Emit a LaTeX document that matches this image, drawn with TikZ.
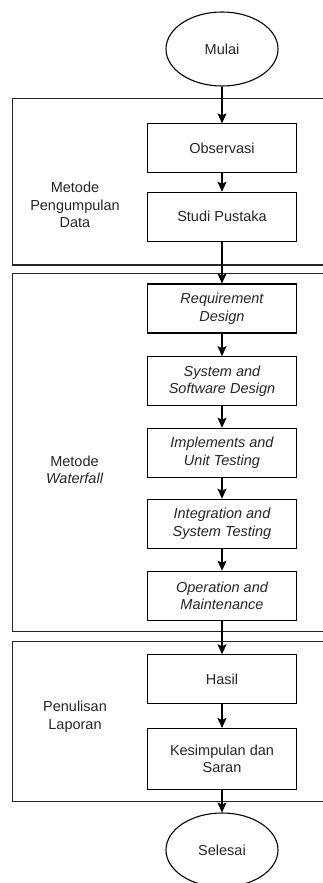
\documentclass[tikz,border=0pt]{standalone}
\usepackage{fontspec}
\setmainfont{Liberation Sans}
\usetikzlibrary{shapes.geometric,arrows.meta}

\tikzset{
  base/.style={line width=1.1pt, draw=black, text=black!85,
    font=\fontsize{14.5}{17.5}\selectfont, align=center, inner sep=0pt},
  terminal/.style={base, ellipse, minimum width=112pt, minimum height=74pt},
  stepbox/.style={base, rectangle, minimum width=149pt, minimum height=49pt},
  tallbox/.style={stepbox, minimum height=61pt},
  groupframe/.style={line width=1.1pt, draw=black!85},
  grouplabel/.style={text=black!85, font=\fontsize{14.5}{17.5}\selectfont,
    align=center, inner sep=0pt},
  flow/.style={line width=1.1pt, draw=black,
    -{Stealth[length=10pt,width=9pt,inset=2pt]}}
}

\begin{document}
\begin{tikzpicture}[x=1pt,y=-1pt]
  % page area in pixel-like units
  \clip (0,0) rectangle (323,883);
  \fill[white] (0,0) rectangle (323,883);

  % group frames (open to the right)
  \draw[groupframe] (12.7,98.7) rectangle (345,265);
  \draw[groupframe] (12.7,273.3) rectangle (345,631.7);
  \draw[groupframe] (12.7,641.7) rectangle (345,801.7);

  % group labels
  \node[grouplabel] (lblData) at (75,205) {Metode\\Pengumpulan\\Data};
  \node[grouplabel] (lblWf) at (74.5,470) {Metode\\\itshape Waterfall};
  \node[grouplabel] (lblLap) at (75,716.5) {Penulisan\\Laporan};

  % flow nodes
  \node[terminal] (start) at (222,49) {Mulai};
  \node[stepbox] (obs) at (222,148.4) {Observasi};
  \node[stepbox] (pus) at (222,216.8) {Studi Pustaka};
  \node[stepbox, font=\fontsize{14.5}{17.5}\selectfont\itshape] (req) at (222,308.5) {Requirement\\Design};
  \node[stepbox, font=\fontsize{14.5}{17.5}\selectfont\itshape] (sys) at (222,381.2) {System and\\Software Design};
  \node[stepbox, font=\fontsize{14.5}{17.5}\selectfont\itshape] (imp) at (222,452.8) {Implements and\\Unit Testing};
  \node[stepbox, font=\fontsize{14.5}{17.5}\selectfont\itshape] (int) at (222,523.7) {Integration and\\System Testing};
  \node[stepbox, font=\fontsize{14.5}{17.5}\selectfont\itshape] (ope) at (222,595.8) {Operation and\\Maintenance};
  \node[stepbox] (has) at (222,679.3) {Hasil};
  \node[tallbox] (kes) at (222,759) {Kesimpulan dan\\Saran};
  \node[terminal] (end) at (222,850) {Selesai};

  % connectors
  \draw[flow] (start) -- (obs);
  \draw[flow] (obs) -- (pus);
  \draw[flow] (pus) -- (req);
  \draw[flow] (req) -- (sys);
  \draw[flow] (sys) -- (imp);
  \draw[flow] (imp) -- (int);
  \draw[flow] (int) -- (ope);
  \draw[flow] (ope) -- (has);
  \draw[flow] (has) -- (kes);
  \draw[flow] (kes) -- (end);
\end{tikzpicture}
\end{document}
